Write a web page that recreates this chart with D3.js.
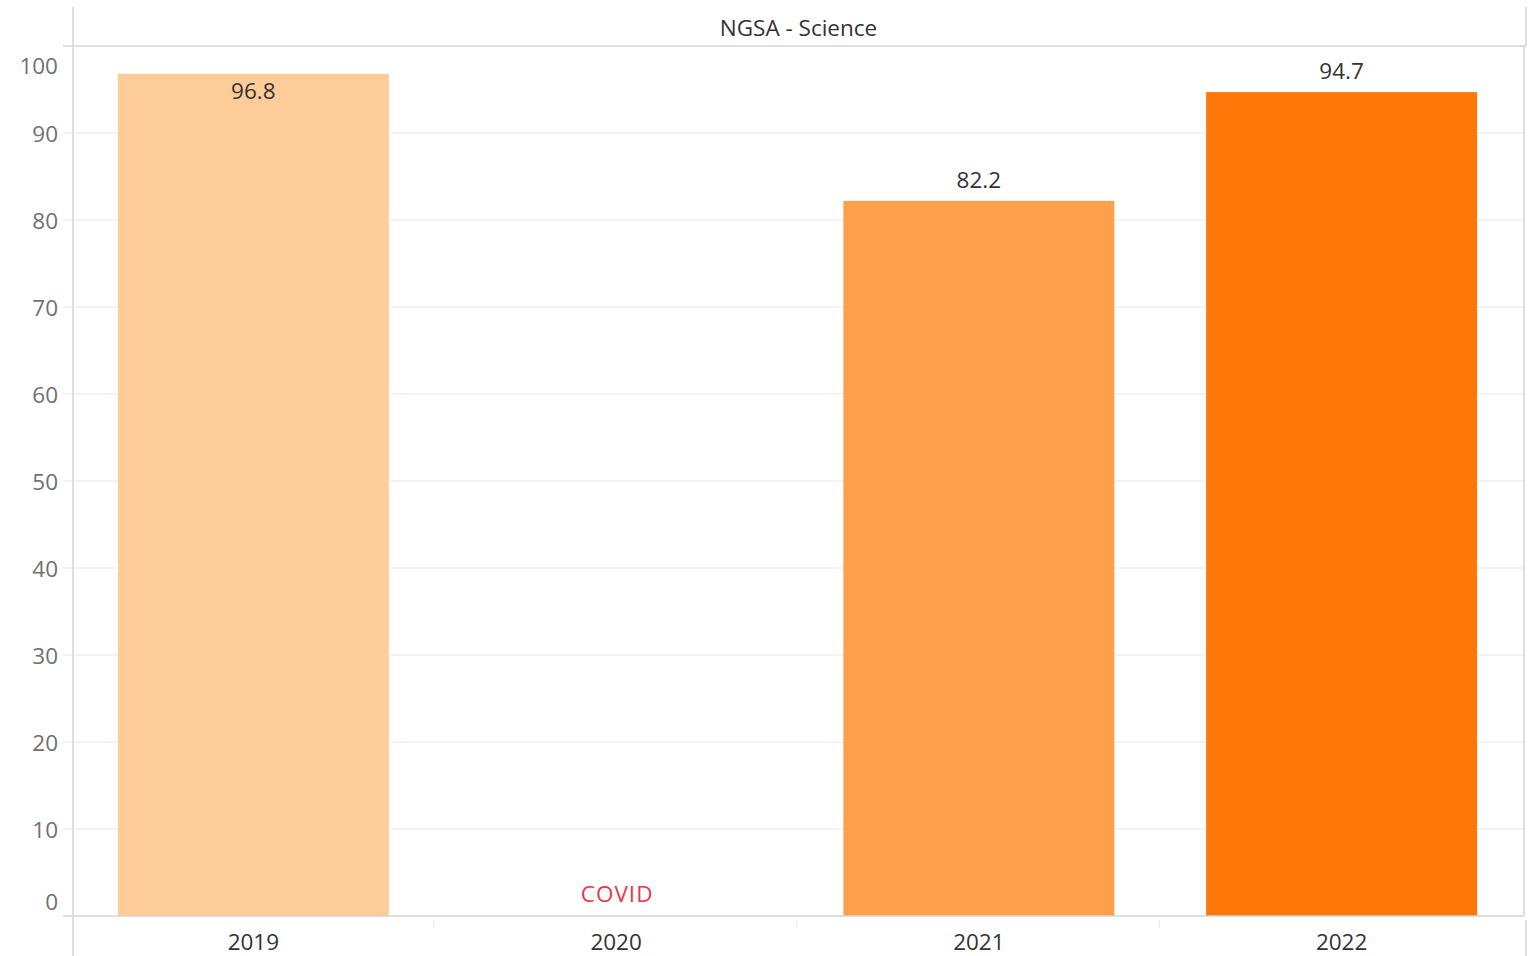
<!DOCTYPE html>
<html>
<head>
<meta charset="utf-8">
<script src="https://cdn.jsdelivr.net/npm/d3@7"></script>
<style>
   body { margin: 0; background: #fff; }
   svg text { font-family: "Open Sans", sans-serif; }
</style>
</head>
<body>
<div id="chart"></div>
<script>
var title = "NGSA - Science"
var years = ["2019", "2020", "2021", "2022"]
var values = [96.8, null, 82.2, 94.7]
var barColors = ["#fdcc98", "#ffffff", "#fe9f4b", "#fe7709"]
var notes = ["", "COVID", "", ""]
var yTicks = [0, 10, 20, 30, 40, 50, 60, 70, 80, 90, 100]

var width = 1538
var height = 956
var plot = { left: 73, right: 1524, top: 46, bottom: 916 }
var lineColor = "#d4d4d4"
var fontSize = 22.5

var svg = d3.select("#chart").append("svg")
   .attr("width", width)
   .attr("height", height)

var x = d3.scaleBand().domain(years).range([plot.left, plot.right]).paddingInner(0).paddingOuter(0)
var y = d3.scaleLinear().domain([0, 100]).range([plot.bottom, plot.top])

// gridlines
svg.append("g").selectAll("line.grid").data(yTicks.filter(function(d) { return d > 0 && d < 100 }))
   .enter().append("line")
      .attr("class", "grid")
      .attr("x1", plot.left - 10)
      .attr("x2", plot.right)
      .attr("y1", function(d) { return y(d) })
      .attr("y2", function(d) { return y(d) })
      .attr("stroke", "#efefef")
      .attr("stroke-width", 1.5)

// y axis labels (Tableau keeps the end labels inside the pane)
svg.append("g").selectAll("text.ylab").data(yTicks)
   .enter().append("text")
      .attr("class", "ylab")
      .attr("x", 58)
      .attr("y", function(d) {
         if(d == 100) return y(d) + 20
         if(d == 0) return y(d) - 14
         return y(d) + 1
      })
      .attr("dy", "0.35em")
      .attr("text-anchor", "end")
      .attr("fill", "#707070")
      .attr("font-size", fontSize)
      .text(function(d) { return d })

// bars
var bw = x.bandwidth() * 0.747
svg.append("g").selectAll("rect.bar").data(years)
   .enter().append("rect")
      .filter(function(d, i) { return values[i] != null })
      .attr("class", "bar")
      .attr("x", function(d) { return x(d) + (x.bandwidth() - bw) / 2 - 1 })
      .attr("width", bw)
      .attr("y", function(d) { return y(values[years.indexOf(d)]) })
      .attr("height", function(d) { return plot.bottom - y(values[years.indexOf(d)]) })
      .attr("fill", function(d) { return barColors[years.indexOf(d)] })

// value labels: above the bar, or inside when no room
svg.append("g").selectAll("text.val").data(years)
   .enter().append("text")
      .filter(function(d, i) { return values[i] != null })
      .attr("class", "val")
      .attr("x", function(d) { return x(d) + x.bandwidth() / 2 - 1 })
      .attr("y", function(d) {
         let top = y(values[years.indexOf(d)])
         return top - 40 < plot.top ? top + 25 : top - 13
      })
      .attr("text-anchor", "middle")
      .attr("fill", "#333")
      .attr("font-size", fontSize)
      .text(function(d) { return d3.format(".1f")(values[years.indexOf(d)]) })

// notes (COVID)
svg.append("g").selectAll("text.note").data(years)
   .enter().append("text")
      .filter(function(d, i) { return notes[i] != "" })
      .attr("class", "note")
      .attr("x", function(d) { return x(d) + x.bandwidth() / 2 })
      .attr("y", plot.bottom - 14)
      .attr("text-anchor", "middle")
      .attr("fill", "#e8364d")
      .attr("font-size", fontSize)
      .attr("letter-spacing", 1)
      .text(function(d) { return notes[years.indexOf(d)] })

// pane borders
svg.append("line").attr("x1", plot.left).attr("x2", plot.left).attr("y1", 7).attr("y2", height)
   .attr("stroke", lineColor).attr("stroke-width", 1.5)
svg.append("line").attr("x1", plot.left - 10).attr("x2", plot.right + 2).attr("y1", plot.top).attr("y2", plot.top)
   .attr("stroke", lineColor).attr("stroke-width", 1.5)
svg.append("line").attr("x1", plot.left - 10).attr("x2", plot.right).attr("y1", plot.bottom).attr("y2", plot.bottom)
   .attr("stroke", lineColor).attr("stroke-width", 1.5)
svg.append("line").attr("x1", plot.right).attr("x2", plot.right).attr("y1", plot.top).attr("y2", plot.bottom)
   .attr("stroke", lineColor).attr("stroke-width", 1.5)
svg.append("line").attr("x1", plot.right + 2).attr("x2", plot.right + 2).attr("y1", 7).attr("y2", plot.top)
   .attr("stroke", lineColor).attr("stroke-width", 1.5)
svg.append("line").attr("x1", plot.right + 2).attr("x2", plot.right + 2).attr("y1", plot.bottom + 4).attr("y2", height)
   .attr("stroke", lineColor).attr("stroke-width", 1.5)

// title
svg.append("text")
   .attr("x", (plot.left + plot.right) / 2)
   .attr("y", 36)
   .attr("text-anchor", "middle")
   .attr("fill", "#333")
   .attr("font-size", fontSize)
   .text(title)

// x axis: category dividers and labels
var xAxis = d3.axisBottom(x).tickSize(0).tickPadding(0)
var gx = svg.append("g").attr("transform", "translate(0," + plot.bottom + ")").call(xAxis)
gx.select(".domain").remove()
gx.selectAll("text")
   .attr("dy", 0)
   .attr("y", 34)
   .attr("fill", "#333")
   .attr("font-size", fontSize)
   .attr("font-family", "Open Sans, sans-serif")
   .attr("transform", "translate(-1,0)")

svg.append("g").selectAll("line.div").data(years.slice(1))
   .enter().append("line")
      .attr("class", "div")
      .attr("x1", function(d) { return x(d) - 2 })
      .attr("x2", function(d) { return x(d) - 2 })
      .attr("y1", plot.bottom + 4)
      .attr("y2", plot.bottom + 12)
      .attr("stroke", "#eeeeee")
      .attr("stroke-width", 1.5)
</script>
</body>
</html>
